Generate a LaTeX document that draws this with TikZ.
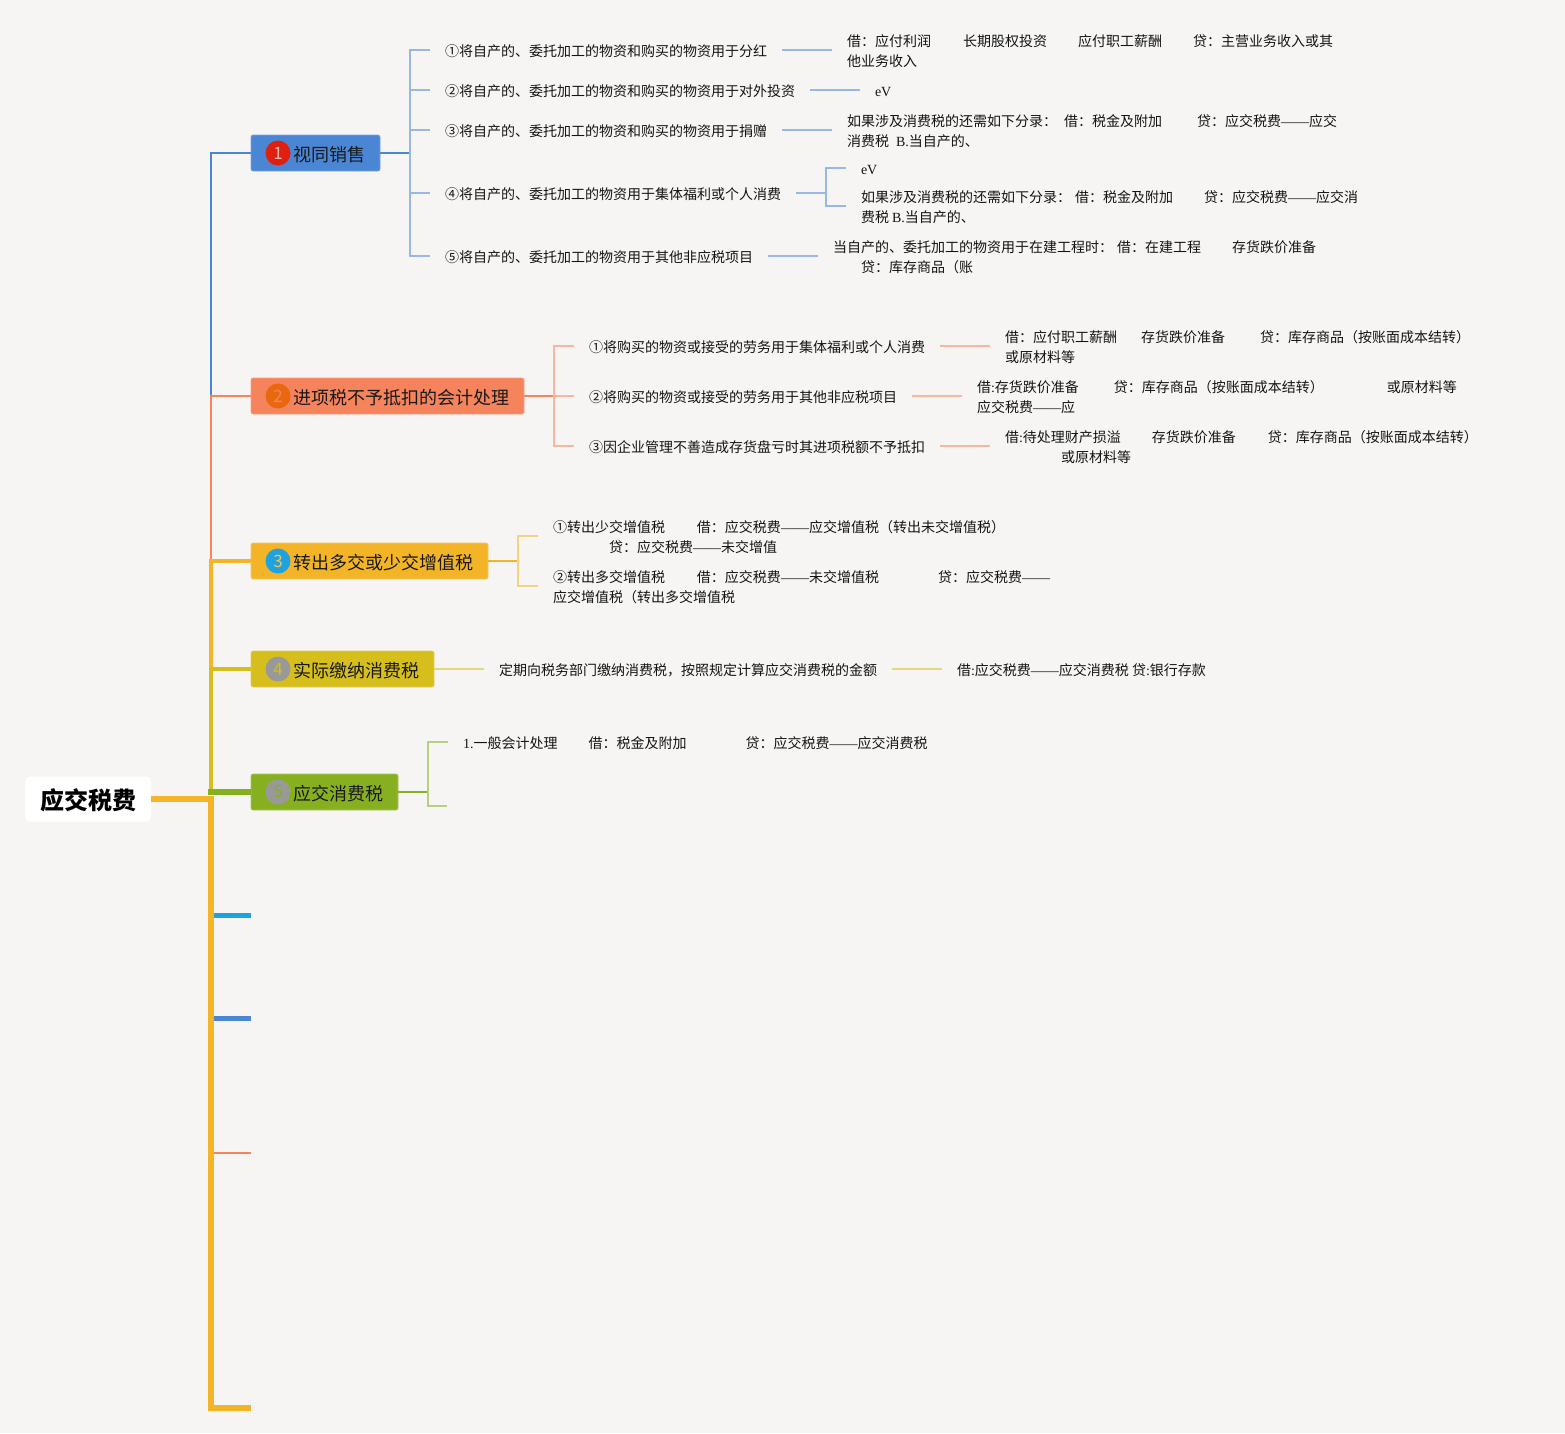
\documentclass[tikz,border=0pt]{standalone}
\usepackage{fontspec}
\setmainfont{Noto Sans CJK SC}
\newfontfamily\latinf{Liberation Serif}
\definecolor{paper}{HTML}{F6F5F4}
\definecolor{topicblue}{HTML}{4A86D4}
\definecolor{topicsalmon}{HTML}{F5835C}
\definecolor{topicorange}{HTML}{F3B527}
\definecolor{topicyellow}{HTML}{D6BF1C}
\definecolor{topicgreen}{HTML}{87B021}
\definecolor{stubcyan}{HTML}{1FA3E0}
\definecolor{dotred}{HTML}{E0200F}
\definecolor{dotorange}{HTML}{E8670F}
\definecolor{dotgray}{HTML}{999999}
\tikzset{rootbox/.style={fill=white,rounded corners=5pt,minimum width=126pt,minimum height=45pt,inner sep=0pt,outer sep=0pt,text height=24pt,text depth=3pt,font=\fontsize{24}{28}\selectfont\bfseries},
topicbox/.style={draw=#1!75!white,fill=#1,line width=.6pt,rounded corners=2pt,anchor=west,minimum height=36pt,inner xsep=15pt,inner ysep=0pt,outer sep=0pt,text height=18pt,text depth=1pt,text=black!90,font=\fontsize{18}{22}\selectfont},
numdot/.style={circle,minimum size=25pt,inner sep=0pt,font=\fontsize{17}{20}\selectfont},
leaftext/.style={anchor=west,align=left,inner xsep=15pt,inner ysep=0pt,outer sep=0pt,text height=14pt,text depth=1pt,text=black!92,font=\fontsize{14}{20}\selectfont},
twolines/.style={leaftext,text height=34pt},
thinline/.style={line width=1.4pt,#1!55!paper}}
\newcommand{\gapx}[1]{\hspace*{#1pt}}
\newcommand{\dashes}{{\latinf ——}}
\begin{document}
\begin{tikzpicture}[x=1pt,y=-1pt]
\fill[paper] (0,0) rectangle (1565,1433);
\useasboundingbox (0,0) rectangle (1565,1433);
\node[rootbox] (root) at (88,799){应交税费};
\node[topicbox=topicblue] (topicone) at (251,153){\gapx{27}视同销售};
\node[topicbox=topicsalmon] (topictwo) at (251,396){\gapx{27}进项税不予抵扣的会计处理};
\node[topicbox=topicorange] (topicthree) at (251,561){\gapx{27}转出多交或少交增值税};
\node[topicbox=topicyellow] (topicfour) at (251,669){\gapx{27}实际缴纳消费税};
\node[topicbox=topicgreen] (topicfive) at (251,792){\gapx{27}应交消费税};
\node[numdot,fill=dotred,text=red!15!white!80!dotred] (dotone) at (278,153){1};
\node[numdot,fill=dotorange,text=topicsalmon] (dottwo) at (278,396){2};
\node[numdot,fill=stubcyan,text=topicorange!80!white] (dotthree) at (278,561){3};
\node[numdot,fill=dotgray,text=topicyellow] (dotfour) at (278,669){4};
\node[numdot,fill=dotgray,text=topicgreen] (dotfive) at (278,792){5};

\coordinate (jroot) at (211,799);
\coordinate (jfive) at (208,792);
\coordinate (jfivetop) at (211,792);
\coordinate (jfour) at (211,669);
\coordinate (jthree) at (211,561);
\coordinate (jtwo) at (211,396);
\coordinate (trunkend) at (251,1408);
\coordinate (stubc) at (251,915);
\coordinate (stubd) at (251,1018);
\coordinate (stube) at (251,1153);

\draw[topicorange,line width=6pt] (root.east) -- (jroot);
\draw[topicorange,line width=6pt] (211,796) |- (trunkend);
\draw[stubcyan,line width=5pt] (214,915) -- (stubc);
\draw[topicblue,line width=5pt] (214,1018) -- (stubd);
\draw[topicsalmon,line width=2pt] (214,1153) -- (stube);
\draw[topicblue,line width=2.2pt] (jtwo) |- (topicone.west);
\draw[topicsalmon,line width=2.2pt] (jthree) -- (jtwo) -- (topictwo.west);
\draw[topicorange,line width=4pt] (jfour) |- (topicthree.west);
\draw[topicyellow,line width=4pt] (jfivetop) |- (topicfour.west);
\draw[topicgreen,line width=6pt] (jfive) -- (topicfive.west);

\node[leaftext] (subonea) at (430,50){①将自产的、委托加工的物资和购买的物资用于分红};
\node[leaftext] (suboneb) at (430,90){②将自产的、委托加工的物资和购买的物资用于对外投资};
\node[leaftext] (subonec) at (430,130){③将自产的、委托加工的物资和购买的物资用于捐赠};
\node[leaftext] (suboned) at (430,193){④将自产的、委托加工的物资用于集体福利或个人消费};
\node[leaftext] (subonee) at (430,256){⑤将自产的、委托加工的物资用于其他非应税项目};
\node[twolines] (leafa) at (832,50){借：应付利润\gapx{32}长期股权投资\gapx{31}应付职工薪酬\gapx{31}贷：主营业务收入或其\\他业务收入};
\node[leaftext] (leafb) at (860,90){\latinf eV};
\node[twolines] (leafc) at (832,130){如果涉及消费税的还需如下分录：\gapx{7}借：税金及附加\gapx{35}贷：应交税费\dashes 应交\\消费税\gapx{7}{\latinf B.}当自产的、};
\node[leaftext] (leafda) at (846,168){\latinf eV};
\node[twolines] (leafdb) at (846,206){如果涉及消费税的还需如下分录：\gapx{4}借：税金及附加\gapx{31}贷：应交税费\dashes 应交消\\费税 {\latinf B.}当自产的、};
\node[twolines] (leafe) at (818,256){当自产的、委托加工的物资用于在建工程时：\gapx{4}借：在建工程\gapx{31}存货跌价准备\\\gapx{28}贷：库存商品（账};
\coordinate (brone) at (410,153);
\coordinate (brfour) at (826,193);
\draw[topicblue,line width=2pt] (topicone.east) -- (brone);
\draw[thinline=topicblue] (brone) |- (subonea.west) (brone) |- (suboneb.west) (brone) |- (subonec.west) (brone) |- (suboned.west) (brone) |- (subonee.west);
\draw[thinline=topicblue] (subonea.east) -- (leafa.west);
\draw[thinline=topicblue] (suboneb.east) -- (leafb.west);
\draw[thinline=topicblue] (subonec.east) -- (leafc.west);
\draw[thinline=topicblue] (suboned.east) -- (brfour);
\draw[thinline=topicblue] (brfour) |- (leafda.west) (brfour) |- (leafdb.west);
\draw[thinline=topicblue] (subonee.east) -- (leafe.west);

\node[leaftext] (subtwoa) at (574,346){①将购买的物资或接受的劳务用于集体福利或个人消费};
\node[leaftext] (subtwob) at (574,396){②将购买的物资或接受的劳务用于其他非应税项目};
\node[leaftext] (subtwoc) at (574,446){③因企业管理不善造成存货盘亏时其进项税额不予抵扣};
\node[twolines] (leaftwoa) at (990,346){借：应付职工薪酬\gapx{24}存货跌价准备\gapx{35}贷：库存商品（按账面成本结转）\\或原材料等};
\node[twolines] (leaftwob) at (962,396){借{\latinf :}存货跌价准备\gapx{35}贷：库存商品（按账面成本结转）\gapx{63}或原材料等\\应交税费\dashes 应};
\node[twolines] (leaftwoc) at (990,446){借{\latinf :}待处理财产损溢\gapx{31}存货跌价准备\gapx{32}贷：库存商品（按账面成本结转）\\\gapx{56}或原材料等};
\coordinate (brtwo) at (554,396);
\draw[topicsalmon,line width=2pt] (topictwo.east) -- (brtwo);
\draw[thinline=topicsalmon] (brtwo) |- (subtwoa.west) (brtwo) |- (subtwob.west) (brtwo) |- (subtwoc.west);
\draw[thinline=topicsalmon] (subtwoa.east) -- (leaftwoa.west);
\draw[thinline=topicsalmon] (subtwob.east) -- (leaftwob.west);
\draw[thinline=topicsalmon] (subtwoc.east) -- (leaftwoc.west);

\node[twolines] (subthreea) at (538,536){①转出少交增值税\gapx{32}借：应交税费\dashes 应交增值税（转出未交增值税）\\\gapx{56}贷：应交税费\dashes 未交增值};
\node[twolines] (subthreeb) at (538,586){②转出多交增值税\gapx{32}借：应交税费\dashes 未交增值税\gapx{59}贷：应交税费\dashes\\应交增值税（转出多交增值税};
\coordinate (brthree) at (518,561);
\draw[topicorange,line width=2pt] (topicthree.east) -- (brthree);
\draw[thinline=topicorange] (brthree) |- (subthreea.west) (brthree) |- (subthreeb.west);

\node[leaftext] (subfoura) at (484,669){定期向税务部门缴纳消费税，按照规定计算应交消费税的金额};
\node[leaftext] (subfourb) at (942,669){借{\latinf :}应交税费\dashes 应交消费税 贷{\latinf :}银行存款};
\draw[thinline=topicyellow] (topicfour.east) -- (subfoura.west);
\draw[thinline=topicyellow] (subfoura.east) -- (subfourb.west);

\node[leaftext] (subfivea) at (448,742){{\latinf 1.}一般会计处理\gapx{31}借：税金及附加\gapx{59}贷：应交税费\dashes 应交消费税};
\coordinate (subfiveb) at (447,806);
\coordinate (brfive) at (428,792);
\draw[topicgreen,line width=2pt] (topicfive.east) -- (brfive);
\draw[thinline=topicgreen] (brfive) |- (subfivea.west) (brfive) |- (subfiveb);
\end{tikzpicture}
\end{document}
